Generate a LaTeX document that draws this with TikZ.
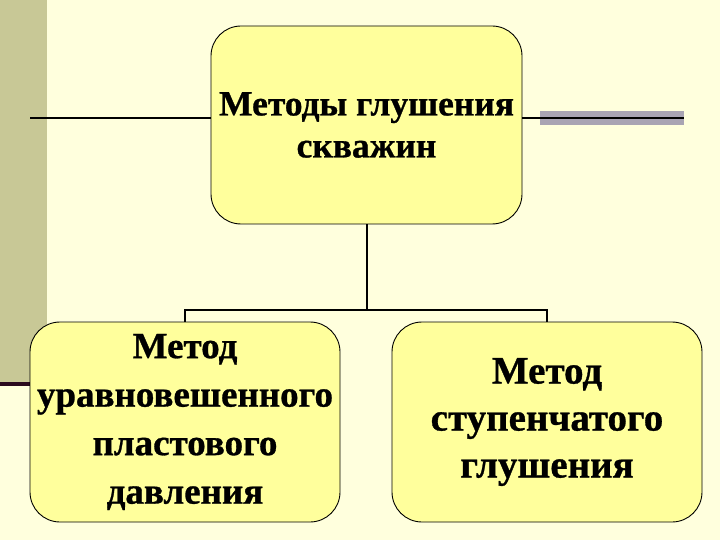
\documentclass[tikz,border=0pt]{standalone}
\usepackage{fontspec}
\setmainfont{Liberation Serif}
\newfontfamily\heavyserif{Liberation Serif}[UprightFont=*, BoldFont=* Bold, BoldFeatures={FakeBold=0.8}]
\definecolor{bgcream}{HTML}{FFFFDD}
\definecolor{stripe}{HTML}{C8C896}
\definecolor{boxfill}{HTML}{FFFF9C}
\definecolor{bandgray}{HTML}{A9A4B3}
\definecolor{maroon}{HTML}{2B0A1E}
\tikzset{
  methodbox/.style={draw=black, line width=0.9pt, fill=boxfill, rounded corners=30pt,
    align=center, inner sep=0pt},
  conn/.style={draw=black, line width=2pt},
}
\begin{document}
\begin{tikzpicture}[x=1pt,y=-1pt]
\useasboundingbox (0,0) rectangle (720,540);
\fill[bgcream] (0,0) rectangle (720,540);
\fill[stripe] (0,0) rectangle (47,382);
\fill[maroon] (0,382) rectangle (40,386);
\fill[bandgray] (540,111) rectangle (684,125);
\node[methodbox, minimum width=311pt, minimum height=198pt, font=\heavyserif\bfseries\fontsize{35.5}{42}\selectfont] (top) at (366.5,125) {Методы глушения\\скважин};
\node[methodbox, minimum width=310pt, minimum height=200pt, font=\heavyserif\bfseries\fontsize{37}{48.5}\selectfont] (bl) at (185,422) {Метод\\уравновешенного\\пластового\\давления};
\node[methodbox, minimum width=310pt, minimum height=200pt, font=\heavyserif\bfseries\fontsize{39}{47}\selectfont] (br) at (547,422) {Метод\\ступенчатого\\глушения};
\coordinate (l1) at (30,118);
\coordinate (r1) at (684,118);
\coordinate (jn) at (366.5,310);
\draw[conn] (l1) -- (l1 -| top.west);
\draw[conn] (top.east |- r1) -- (r1);
\draw[conn] (top.south) -- (jn);
\draw[conn] (jn) -| (bl.north);
\draw[conn] (jn) -| (br.north);
\end{tikzpicture}
\end{document}
